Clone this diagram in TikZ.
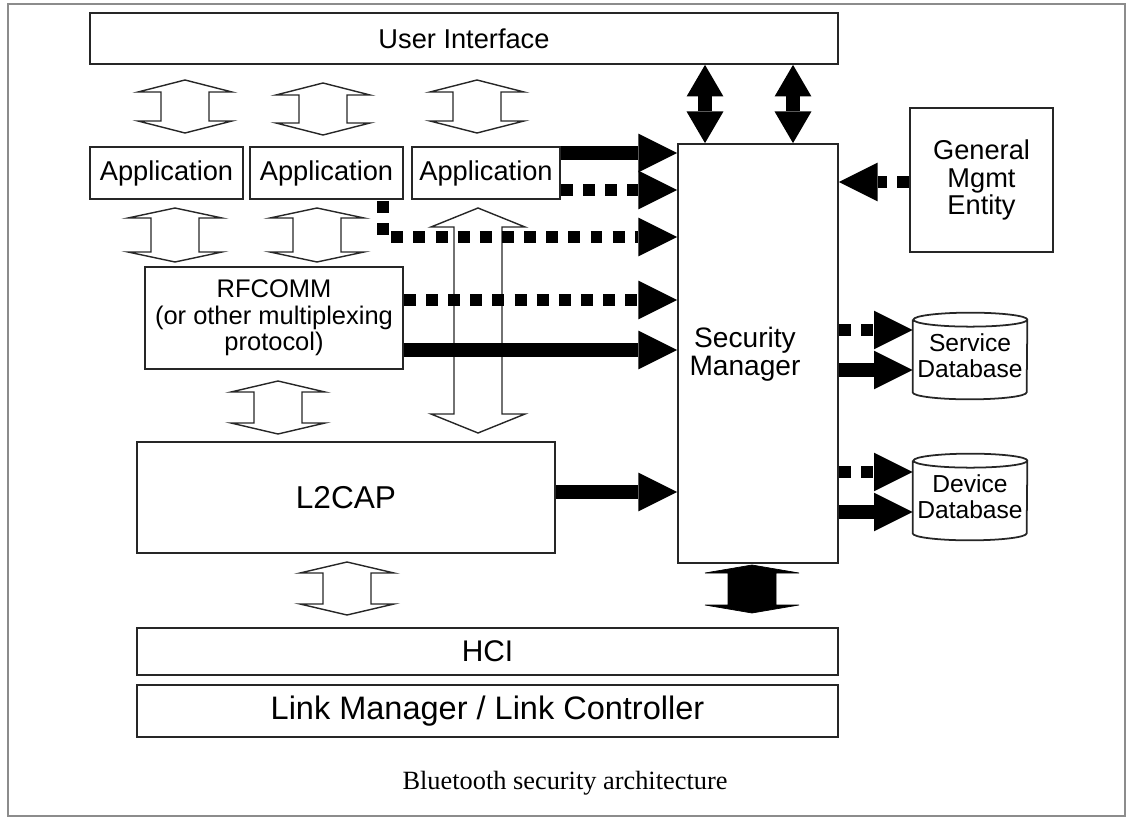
\documentclass[tikz,border=0pt]{standalone}
\usepackage{fontspec}
\setmainfont{Liberation Sans}
\newfontfamily\capfont{Liberation Serif}
\usetikzlibrary{arrows.meta}

\tikzset{
  box/.style={draw=black!85, line width=1pt, inner sep=0pt, align=center},
  boxsize/.style 2 args={minimum width=#1*0.02cm, minimum height=#2*0.02cm},
  txt/.style 2 args={font=\fontsize{#1}{#2}\selectfont},
  dbbox/.style={inner sep=0pt, align=center},
  dbline/.style={draw=black!85, line width=1pt},
  hollow/.style={draw=black!85, line width=0.8pt},
  solidarr/.style={line width=7.5pt, -{Triangle[length=22pt, width=22pt, line width=0pt]}},
  dotarr/.style={line width=6.8pt, dash pattern=on 6.8pt off 5.8pt, -{Triangle[length=22pt, width=22pt, line width=0pt]}},
  bigdbl/.style={line width=8.5pt, {Triangle[length=18pt, width=21pt, line width=0pt]}-{Triangle[length=18pt, width=21pt, line width=0pt]}},
  pics/updown/.style 2 args={code={
    \draw[pic actions] (0,-#1) -- (47,-#1+#2) -- (24,-#1+#2) -- (24,#1-#2)
      -- (47,#1-#2) -- (0,#1) -- (-47,#1-#2) -- (-24,#1-#2)
      -- (-24,-#1+#2) -- (-47,-#1+#2) -- cycle;
  }}
}

\begin{document}
\begin{tikzpicture}[x=0.02cm, y=-0.02cm]
    % Frame
    \useasboundingbox (0,0) rectangle (1128,820);
    \draw[black!45, line width=1pt] (8,4) rectangle (1125,816);

    % Protocol stack
    \node[box, boxsize={748}{51}, txt={15.5}{17}] (ui) at (464,38.5) {User Interface};
    \node[box, boxsize={153}{52}, txt={15.5}{17}] (app1) at (166.5,173) {Application};
    \node[box, boxsize={153}{52}, txt={15.5}{17}] (app2) at (326.5,173) {Application};
    \node[box, boxsize={148}{52}, txt={15.5}{17}] (app3) at (486,173) {Application};
    \node[box, boxsize={258}{102}, txt={14.5}{15}] (rfcomm) at (274,318) {RFCOMM\\(or other multiplexing\\protocol)};
    \node[box, boxsize={418}{111}, txt={18}{20}] (l2cap) at (346,497.5) {L2CAP};
    \node[box, boxsize={701}{47}, txt={17}{19}] (hci) at (487.5,651.5) {HCI};
    \node[box, boxsize={701}{52}, txt={18.5}{20}] (lmlc) at (487.5,711) {Link Manager / Link Controller};

    % Security side
    \node[box, boxsize={160}{419}] (sm) at (758,353.5) {};
    \node[txt={16}{16}, align=center] (smtext) at (745,354) {Security\\Manager};
    \node[box, boxsize={143}{144}, txt={15.5}{15.5}] (gme) at (981.5,180) {General\\Mgmt\\Entity};

    % Databases (cylinders)
    \node[dbbox, boxsize={114}{72}, txt={14}{15}] (sdb) at (970,356) {Service\\Database};
    \draw[dbline] (sdb.north west) -- (sdb.south west)
        arc[start angle=180, end angle=360, x radius=1.14cm, y radius=0.14cm]
        -- (sdb.north east) arc[start angle=0, end angle=360, x radius=1.14cm, y radius=0.14cm];
    \node[dbbox, boxsize={114}{72}, txt={14}{15}] (ddb) at (970,497) {Device\\Database};
    \draw[dbline] (ddb.north west) -- (ddb.south west)
        arc[start angle=180, end angle=360, x radius=1.14cm, y radius=0.14cm]
        -- (ddb.north east) arc[start angle=0, end angle=360, x radius=1.14cm, y radius=0.14cm];

    % Hollow arrows between layers
    \pic[hollow] at (185,106.5) {updown={26.5}{12}};
    \pic[hollow] at (323,109) {updown={26}{12}};
    \pic[hollow] at (477,106.5) {updown={26.5}{12}};
    \pic[hollow] at (175,235) {updown={27}{10}};
    \pic[hollow] at (317,235) {updown={27}{10}};
    \pic[hollow] at (478,320.5) {updown={112.5}{19}};
    \pic[hollow] at (278,407.5) {updown={26.5}{11}};
    \pic[hollow] at (347,588.5) {updown={26.5}{11}};
    \pic[fill=black] at (752,589) {updown={24}{8}};

    % User interface to security manager
    \draw[bigdbl] (ui.south -| 705,0) -- (sm.north -| 705,0);
    \draw[bigdbl] (ui.south -| 793,0) -- (sm.north -| 793,0);

    % Queries into the security manager
    \draw[solidarr] (app3.east |- 0,153) -- (sm.west |- 0,153);
    \draw[dotarr] (app3.east |- 0,190) -- (sm.west |- 0,190);
    \coordinate (bend) at (383,201);
    \draw[dotarr] (bend) |- (sm.west |- 0,237);
    \draw[dotarr] (rfcomm.east |- 0,300) -- (sm.west |- 0,300);
    \draw[solidarr] (rfcomm.east |- 0,350) -- (sm.west |- 0,350);
    \draw[solidarr] (l2cap.east |- 0,492) -- (sm.west |- 0,492);
    \draw[dotarr] (gme.west |- 0,182) -- (sm.east |- 0,182);

    % Security manager to databases
    \draw[dotarr] (sm.east |- 0,330) -- (sdb.west |- 0,330);
    \draw[solidarr] (sm.east |- 0,370) -- (sdb.west |- 0,370);
    \draw[dotarr] (sm.east |- 0,472) -- (ddb.west |- 0,472);
    \draw[solidarr] (sm.east |- 0,512) -- (ddb.west |- 0,512);

    % Caption
    \node[font=\capfont\fontsize{15}{17}\selectfont] (cap) at (565,783) {Bluetooth security architecture};
\end{tikzpicture}
\end{document}
